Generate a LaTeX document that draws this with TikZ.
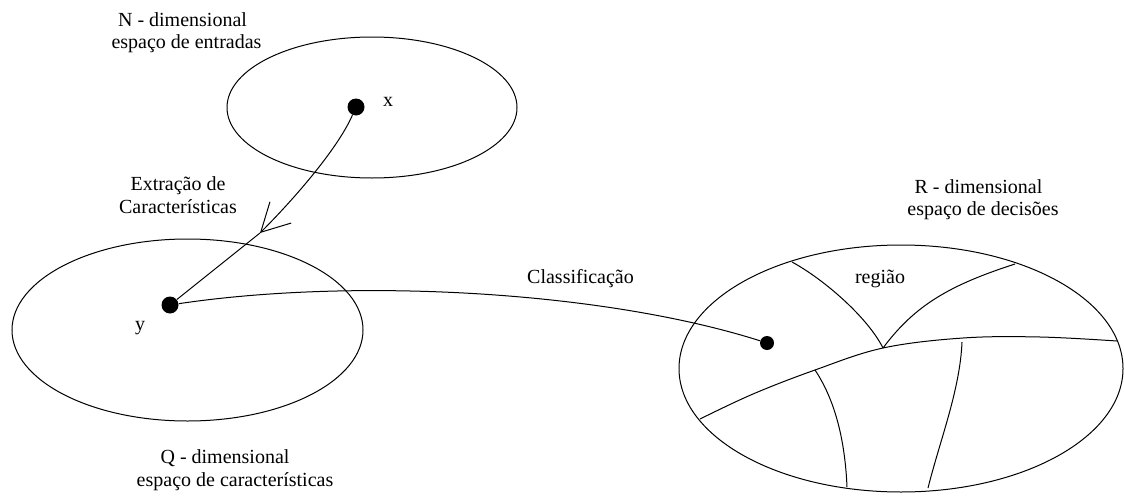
\documentclass[tikz,border=0pt]{standalone}
\usepackage{fontspec}
\setmainfont{Liberation Serif}
\usetikzlibrary{arrows.meta,shapes.geometric}
\tikzset{
  espaco/.style = {draw, ellipse, inner sep=0pt, outer sep=0pt, line width=0.5pt},
  ponto/.style  = {circle, fill=black, inner sep=0pt, minimum size=8.5pt},
  rot/.style    = {anchor=base, inner sep=0pt, font=\fontsize{10}{12}\selectfont},
  linha/.style  = {line width=0.5pt},
  seta/.style   = {linha, -{Straight Barb[length=14pt,width=15pt]}}
}

\begin{document}
\begin{tikzpicture}[x=0.5pt, y=-0.5pt]
\useasboundingbox (0,0) rectangle (1124,498);

% os tres espacos
\node[espaco, minimum width=145pt, minimum height=70.5pt] (entradas) at (372,107.5) {};
\node[espaco, minimum width=175.5pt, minimum height=91pt] (caract) at (187.5,330) {};
\node[espaco, minimum width=222pt, minimum height=123.5pt] (decisoes) at (901,368.5) {};

% pontos
\node[ponto] (x) at (356,107) {};
\node[ponto] (y) at (170,305) {};
\node[ponto, minimum size=7pt] (d) at (767,343) {};
\node[rot] (lx) at (388,106) {x};
\node[rot] (ly) at (140,330) {y};

% textos
\node[rot] (ndim) at (182.5,26) {N - dimensional};
\node[rot] (nesp) at (186.5,48) {espaço de entradas};
\node[rot] (extr) at (178,190) {Extração de};
\node[rot] (carac) at (178,213) {Características};
\node[rot] (qdim) at (225,463) {Q - dimensional};
\node[rot] (qesp) at (235,486) {espaço de características};
\node[rot] (rdim) at (978.5,193) {R - dimensional};
\node[rot] (resp) at (983,215) {espaço de decisões};
\node[rot] (classif) at (580.5,283) {Classificação};
\node[rot] (lregiao) at (880,283) {região};

% extracao de caracteristicas
\coordinate (meio) at (260,233);
\draw[seta] (x) .. controls (338,148) and (296,197) .. (meio);
\draw[linha] (meio) -- (y);

% classificacao
\draw[linha] (y) .. controls (350,278) and (600,290) .. (d);

% fronteiras das regioes
\draw[linha] plot[smooth, tension=0.6] coordinates
  {(700,419) (753,394) (815,370) (883,348) (963,338) (1040,337) (1117,341)};
\draw[linha] (792,262) .. controls (825,280) and (868,318) .. (883,348);
\draw[linha] (883,348) .. controls (915,305) and (950,285) .. (1015,264);
\draw[linha] (815,370) .. controls (835,400) and (845,440) .. (847,487);
\draw[linha] (962,342) .. controls (960,390) and (940,440) .. (928,488);
\end{tikzpicture}
\end{document}
